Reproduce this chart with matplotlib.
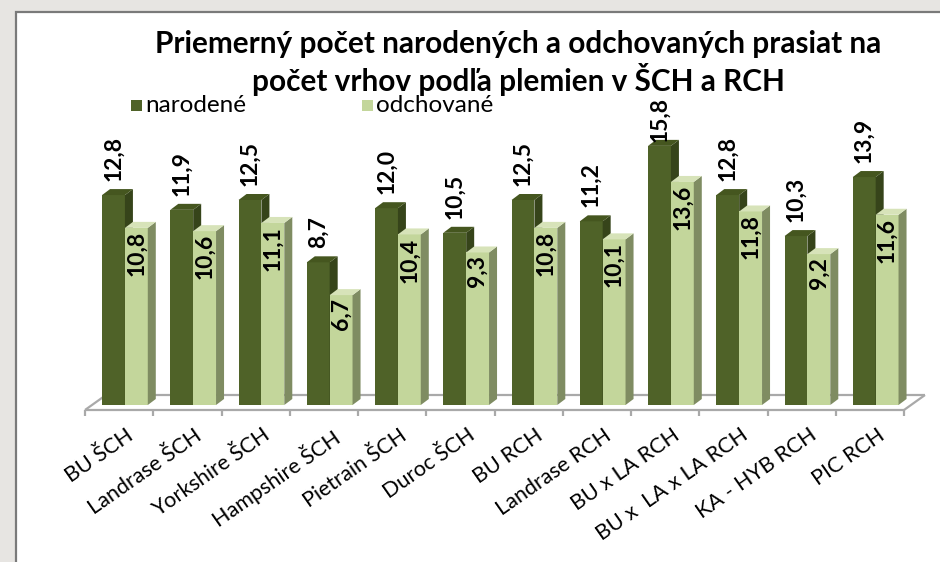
import numpy as np
import matplotlib
matplotlib.use("Agg")
import matplotlib.pyplot as plt
from matplotlib.patches import Rectangle, Polygon

# data
categories = ["BU ŠCH", "Landrase ŠCH", "Yorkshire ŠCH", "Hampshire ŠCH",
              "Pietrain ŠCH", "Duroc ŠCH", "BU RCH", "Landrase RCH",
              "BU x LA RCH", "BU x  LA x LA RCH", "KA - HYB RCH", "PIC RCH"]
narodene = [12.8, 11.9, 12.5, 8.7, 12.0, 10.5, 12.5, 11.2, 15.8, 12.8, 10.3, 13.9]
odchovane = [10.8, 10.6, 11.1, 6.7, 10.4, 9.3, 10.8, 10.1, 13.6, 11.8, 9.2, 11.6]
series_names = ["narodené", "odchované"]
title = "Priemerný počet narodených a odchovaných prasiat na\npočet vrhov podľa plemien v ŠCH a RCH"

W, H = 940, 562
FONT = ["Lato", "DejaVu Sans"]
plt.rcParams["font.family"] = FONT

# colors (front, side, top)
dark = ("#4f6228", "#36441a", "#45561f")
light = ("#c3d69b", "#7f8c62", "#d7e3b9")

fig = plt.figure(figsize=(W / 100, H / 100), dpi=100)
fig.patch.set_facecolor("#e7e5e2")

# white panel with gray border
fig.patches.append(Rectangle((16 / W, -0.1), 1.2, (H - 12) / H + 0.1, transform=fig.transFigure,
                             facecolor="white", edgecolor="#7a7a7a", linewidth=1.6, zorder=-5))

# axes in pixel-like layout: category spacing and value scale
px_cat = 68.25          # pixels per category
px_val = 16.4           # pixels per unit
x_left_px, y_zero_px = 85, 405
ax = fig.add_axes([0, 0, 1, 1])
ax.set_xlim(-0.5 - x_left_px / px_cat, -0.5 + (W - x_left_px) / px_cat)
ax.set_ylim(-(H - y_zero_px) / px_val, y_zero_px / px_val)
ax.axis("off")
ax.patch.set_alpha(0)

n = len(categories)
xs = np.arange(n)
dx = 8 / px_cat
dy = 6 / px_val
bw = 0.335

# floor
f0 = -5 / px_val
f1 = 10 / px_val
fx = 21 / px_cat
floor_kw = dict(color="#a9a9a9", lw=1.6, zorder=1, solid_capstyle="butt")
ax.plot([-0.5 + fx, n - 0.5 + fx], [f1, f1], **floor_kw)
ax.plot([-0.5, n - 0.5], [f0, f0], **floor_kw)
ax.plot([-0.5, -0.5 + fx], [f0, f1], **floor_kw)
ax.plot([n - 0.5, n - 0.5 + fx], [f0, f1], **floor_kw)
for t in np.arange(-0.5, n, 1.0):
    ax.plot([t, t], [f0, f0 - 6 / px_val], **floor_kw)


def bar3d(x0, v, cols, z):
    front, side, top = cols
    ax.add_patch(Rectangle((x0, 0), bw, v, facecolor=front, edgecolor="none", zorder=z))
    ax.add_patch(Polygon([(x0 + bw, 0), (x0 + bw + dx, dy), (x0 + bw + dx, v + dy), (x0 + bw, v)],
                         closed=True, facecolor=side, edgecolor="none", zorder=z))
    ax.add_patch(Polygon([(x0, v), (x0 + dx, v + dy), (x0 + bw + dx, v + dy), (x0 + bw, v)],
                         closed=True, facecolor=top, edgecolor="none", zorder=z))


top_labels = []
for i in range(n):
    a = xs[i] - 0.25
    b = a + bw
    bar3d(a, narodene[i], dark, 2 + i * 0.01)
    bar3d(b, odchovane[i], light, 3 + i * 0.01)
    t = ax.text(a + bw / 2, narodene[i] + 14 / px_val, f"{narodene[i]:.1f}".replace(".", ","),
                rotation=90, ha="center", va="bottom", fontsize=16.5, fontweight="bold", zorder=5)
    top_labels.append(t)
    ax.text(b + bw / 2, odchovane[i] - 3 / px_val, f"{odchovane[i]:.1f}".replace(".", ","),
            rotation=90, ha="center", va="top", fontsize=16.5, fontweight="bold", zorder=5)
    ax.text(xs[i] + 0.1, -20 / px_val, categories[i], rotation=35, rotation_mode="anchor",
            ha="right", va="top", fontsize=15.5, zorder=5)

# title
ttl = fig.text(518.5 / W, 1 - 63 / H, title, ha="center", va="center", fontsize=21.4,
               fontweight="bold", linespacing=1.2)

# legend
for sx, col, name in [(131, dark[0], series_names[0]), (362, light[0], series_names[1])]:
    fig.patches.append(Rectangle((sx / W, 1 - 111 / H), 11 / W, 11 / H, transform=fig.transFigure,
                                 facecolor=col, edgecolor="none"))
    fig.text((sx + 14) / W, 1 - 105 / H, name, ha="left", va="center", fontsize=17.5)

# push value labels down if they run into the title
fig.canvas.draw()
r = fig.canvas.get_renderer()
tb = ttl.get_window_extent(r)
for t in top_labels:
    lb = t.get_window_extent(r)
    if lb.x1 > tb.x0 and lb.x0 < tb.x1 and lb.y1 > tb.y0 - 1:
        shift = (lb.y1 - tb.y0 + 1) / px_val
        x, y = t.get_position()
        t.set_position((x, y - shift))

fig.savefig("out.png", dpi=100, facecolor=fig.get_facecolor())
